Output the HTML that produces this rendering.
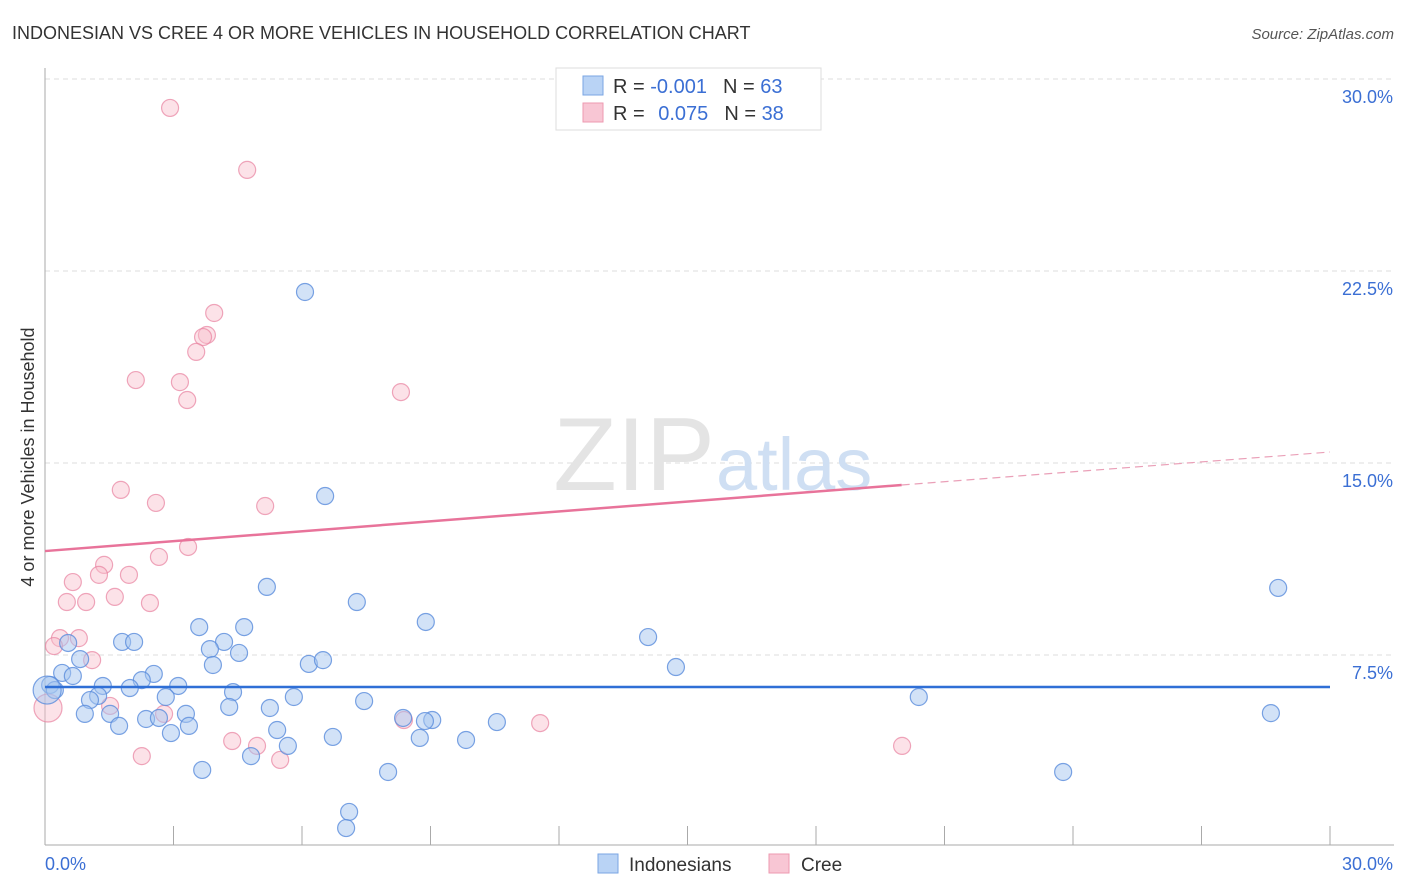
<!DOCTYPE html>
<html><head><meta charset="utf-8">
<style>
body{margin:0;background:#fff;font-family:"Liberation Sans",sans-serif;}
#wrap{position:relative;width:1406px;height:892px;overflow:hidden;}
svg text{font-family:"Liberation Sans",sans-serif;}
</style></head>
<body>
<div id="wrap">
<svg id="chart" width="1406" height="892">
<text x="12" y="39" font-size="18" fill="#333">INDONESIAN VS CREE 4 OR MORE VEHICLES IN HOUSEHOLD CORRELATION CHART</text>
<text x="1394" y="39" font-size="15" fill="#555" font-style="italic" text-anchor="end">Source: ZipAtlas.com</text>
<text x="0" y="0" transform="translate(34,457) rotate(-90)" font-size="18" fill="#333" text-anchor="middle">4 or more Vehicles in Household</text>
<g id="grid"></g>
<text x="715" y="490" font-size="104" fill="#e4e4e4" font-family="Liberation Serif" text-anchor="end">ZIP</text>
<text x="716" y="490" font-size="74" fill="#cfdff3">atlas</text>
<g id="pts"></g>
<g id="lines"></g>
<g>
<rect x="556" y="68" width="265" height="62" fill="#fff" stroke="#ddd"/>
<rect x="583" y="76" width="20" height="19" fill="#b9d3f5" stroke="#7aa6e3"/>
<rect x="583" y="103" width="20" height="19" fill="#f8c6d4" stroke="#ee9ab0"/>
<text x="613" y="93" font-size="20" fill="#333">R = <tspan fill="#3b6fd4">-0.001</tspan><tspan dx="16">N = </tspan><tspan fill="#3b6fd4">63</tspan></text>
<text x="613" y="120" font-size="20" fill="#333">R = <tspan fill="#3b6fd4" dx="8">0.075</tspan><tspan dx="16">N = </tspan><tspan fill="#3b6fd4">38</tspan></text>
</g>
<g>
<rect x="598" y="854" width="20" height="19" fill="#b9d3f5" stroke="#7aa6e3"/>
<text x="629" y="871" font-size="19" fill="#333">Indonesians</text>
<rect x="769" y="854" width="20" height="19" fill="#f8c6d4" stroke="#ee9ab0"/>
<text x="801" y="871" font-size="19" fill="#333">Cree</text>
</g>
</svg>
</div>
<script>
const yTicks=[7.5,15,22.5,30];
const yTickLabels=["7.5%","15.0%","22.5%","30.0%"];
const xTickLabels=["0.0%","30.0%"];
const indoX=[6.07,6.54,5.18,7.28,8.89,28.79,14.08,1.80,2.08,3.60,4.65,4.18,3.85,4.53,0.54,0.82,3.92,6.16,6.49,14.73,0.40,0.65,2.54,2.26,3.11,1.35,1.98,4.39,0.12,0.23,1.24,1.05,2.82,5.81,7.45,20.40,4.30,5.25,0.93,1.52,3.29,2.36,2.66,8.36,9.04,8.87,10.55,28.62,1.73,3.36,2.94,5.42,6.72,8.75,9.83,5.67,4.81,3.67,8.01,23.77,7.10,7.03,0.05];
const indoY=[21.68,13.71,10.16,9.57,8.79,10.12,8.20,8.01,8.01,8.59,8.59,8.01,7.73,7.58,7.97,7.34,7.11,7.15,7.30,7.03,6.80,6.68,6.76,6.52,6.29,6.29,6.21,6.05,6.33,6.13,5.90,5.74,5.86,5.86,5.70,5.86,5.47,5.43,5.20,5.20,5.20,5.00,5.04,5.04,4.96,4.92,4.88,5.23,4.73,4.73,4.45,4.57,4.30,4.26,4.18,3.95,3.55,3.01,2.93,2.93,1.37,0.74,6.13];
const creeX=[2.92,4.72,3.95,3.78,3.69,3.53,2.12,3.15,3.32,8.31,1.77,2.59,5.14,3.34,2.66,1.38,1.26,1.96,0.65,0.51,0.96,1.63,2.45,0.35,0.79,0.21,1.10,1.52,2.78,8.38,11.56,4.37,4.95,5.49,2.26,20.01,0.07,14.29];
const creeY=[28.87,26.45,20.86,20.00,19.92,19.34,18.24,18.16,17.46,17.77,13.95,13.44,13.32,11.72,11.33,11.02,10.63,10.63,10.35,9.57,9.57,9.77,9.53,8.16,8.16,7.85,7.30,5.51,5.20,4.96,4.84,4.14,3.95,3.40,3.55,3.95,5.43,28.67];
const indoTrend=[6.25,6.25];
const creeTrend=[11.56,14.14,15.43];
const creeTrendX=[0,20,30];

const X0=45,X1=1330,Y0=847;
function sx(v){return X0+v/30*(X1-X0);}
function sy(v){return Y0-v/7.5*192;}
const NS="http://www.w3.org/2000/svg";
function mk(tag,attrs,parent){const e=document.createElementNS(NS,tag);for(const k in attrs)e.setAttribute(k,attrs[k]);parent.appendChild(e);return e;}
const grid=document.getElementById('grid');
yTicks.forEach((t,i)=>{
  const l=mk('line',{x1:X0,x2:1394,y1:sy(t),y2:sy(t),stroke:'#ddd','stroke-dasharray':'5,4'},grid);
  
  
  const tx=mk('text',{x:1393,y:sy(t)+24,'font-size':18,fill:'#3b6fd4','text-anchor':'end'},grid);
  tx.textContent=yTickLabels[i];
  
  
});
const ax=mk('line',{x1:X0,x2:X0,y1:68,y2:845,stroke:'#aaa'},grid);


const bx=mk('line',{x1:X0,x2:1394,y1:845,y2:845,stroke:'#aaa'},grid);


for(let i=1;i<=10;i++){
  const t=mk('line',{x1:sx(i*3),x2:sx(i*3),y1:826,y2:845,stroke:'#aaa'},grid);
  
  
}
const xl0=mk('text',{x:45,y:870,'font-size':18,fill:'#3b6fd4'},grid);xl0.textContent=xTickLabels[0];


const xl1=mk('text',{x:1393,y:870,'font-size':18,fill:'#3b6fd4','text-anchor':'end'},grid);xl1.textContent=xTickLabels[1];



const pts=document.getElementById('pts');
creeX.forEach((v,i)=>{
  const big=i===creeX.length-2;
  const c=mk('circle',{cx:sx(v),cy:sy(creeY[i]),r:big?14:8.5,fill:'rgba(248,190,205,0.45)',stroke:'rgba(232,130,160,0.7)','stroke-width':1.2},pts);
  
  
});
indoX.forEach((v,i)=>{
  const big=i===indoX.length-1;
  const c=mk('circle',{cx:sx(v),cy:sy(indoY[i]),r:big?14:8.5,fill:'rgba(165,198,240,0.5)',stroke:'rgba(90,140,220,0.8)','stroke-width':1.2},pts);
  
  
});
const lines=document.getElementById('lines');
const bl=mk('line',{x1:sx(0),x2:sx(30),y1:sy(indoTrend[0]),y2:sy(indoTrend[1]),stroke:'#2f6fd6','stroke-width':2.5},lines);


const pl=mk('line',{x1:sx(creeTrendX[0]),x2:sx(creeTrendX[1]),y1:sy(creeTrend[0]),y2:sy(creeTrend[1]),stroke:'#e8739a','stroke-width':2.5},lines);


const pd=mk('line',{x1:sx(creeTrendX[1]),x2:sx(creeTrendX[2]),y1:sy(creeTrend[1]),y2:sy(creeTrend[2]),stroke:'#eaa0b8','stroke-width':1.2,'stroke-dasharray':'8,5'},lines);


</script>
</body></html>
